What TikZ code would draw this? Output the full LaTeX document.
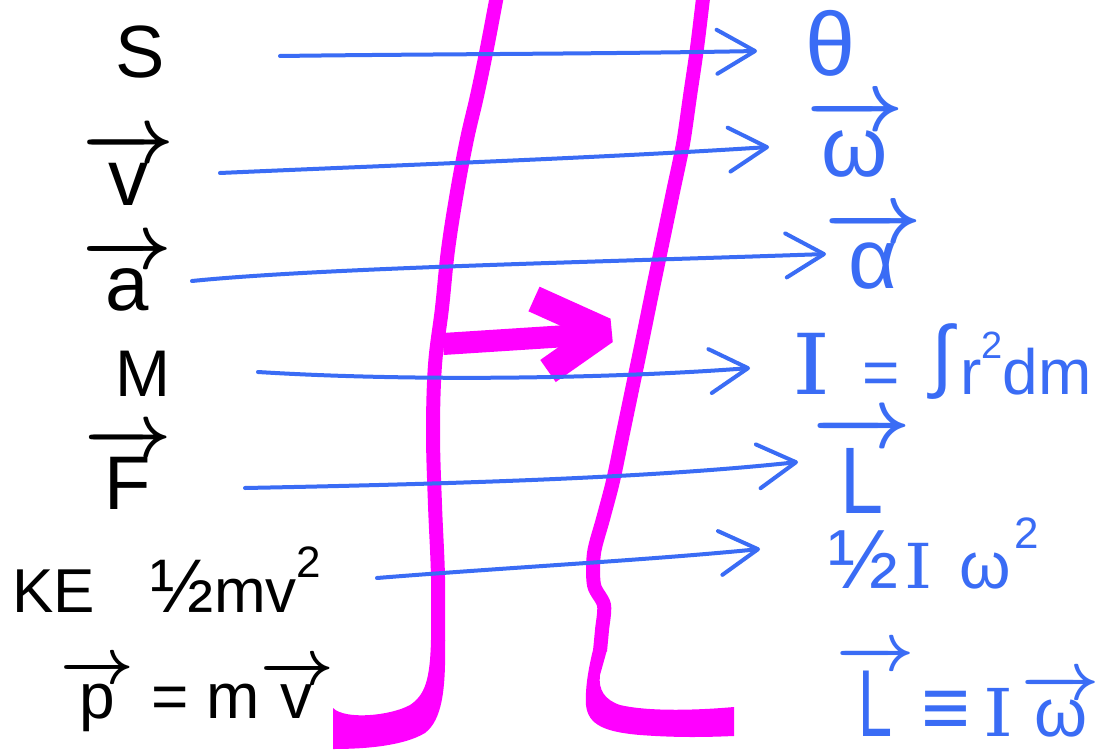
\documentclass[tikz,border=0pt]{standalone}
\usepackage{fix-cm}
\usepackage{amsmath}
\usepackage{graphicx}
\usepackage{fontspec}
\setmainfont{Liberation Sans}
\newfontfamily\serifI{DejaVu Serif}
\usetikzlibrary{arrows.meta}
\definecolor{penblue}{RGB}{58,108,245}
\definecolor{penmag}{RGB}{255,0,255}
\newcommand{\myarr}[1]{{\boldmath$\overrightarrow{\text{#1}}$}}
\newcommand{\bigI}[1]{\scalebox{#1}[1]{\serifI I}}
\newcommand{\mysq}[2]{\raisebox{#1}{\fontsize{#2}{#2}\selectfont 2}}
\newcommand{\myhalf}[1]{{\fontsize{#1}{#1}\selectfont ½}}
\begin{document}
\begin{tikzpicture}[x=1pt,y=-1pt,
  conn/.style={draw=penblue,line width=4pt,line cap=round,-{Straight Barb[length=38pt,width=44pt,round]}},
  magthin/.style={draw=penmag,line width=14pt,line join=round,line cap=butt},
  ink/.style={text=black,inner sep=0pt},
  bink/.style={text=penblue,inner sep=0pt}]
\useasboundingbox (0,0) rectangle (1111,752);
\fill[white] (0,0) rectangle (1111,752);

% magenta strokes
\draw[magthin] plot[smooth,tension=0.6] coordinates {(498,-10) (487,48) (477,96) (467,139) (457,192) (448,250) (442,308) (435,365) (433,433) (435,505) (438,577) (438,641)};
\fill[penmag] (431,640) -- (445,640) .. controls (446,690) and (442,720) .. (425,733)
  .. controls (405,745) and (370,749) .. (333,749) -- (333,708)
  .. controls (345,720) and (390,716) .. (410,705)
  .. controls (425,695) and (430,680) .. (431,640) -- cycle;
\draw[magthin] plot[smooth,tension=0.5] coordinates {(704,-10) (697,48) (690,96) (683,144) (673,192) (663,240) (653,288) (643,337) (633,385) (623,433) (613,481) (603,519) (594,553) (594,585) (604,605) (602,630) (600,651)};
\fill[penmag] (593,650) .. controls (588,670) and (585,690) .. (586,705)
  .. controls (588,725) and (605,732) .. (640,735)
  .. controls (680,738) and (710,737) .. (734,736) -- (734,707)
  .. controls (700,710) and (650,712) .. (620,705)
  .. controls (605,700) and (598,690) .. (600,675) -- (607,650) -- cycle;
\draw[penmag,line width=22pt] (443,344) -- (598,334);
\draw[penmag,line width=27pt,line join=bevel] (534,299) -- (605,331) -- (548,371);

% labels left
\node[ink,font=\fontsize{74}{74}\selectfont] (S) at (140,52) {S};
\node[ink,anchor=base,font=\fontsize{80}{80}\selectfont] (v) at (128,205) {\myarr{v}};
\node[ink,anchor=base,font=\fontsize{78}{78}\selectfont] (a) at (127,310) {\myarr{a}};
\node[ink,anchor=base,font=\fontsize{66}{66}\selectfont] (M) at (143,396) {M};
\node[ink,anchor=base,font=\fontsize{76}{76}\selectfont] (F) at (128,509) {\myarr{F}};
\node[ink,anchor=base west,font=\fontsize{62}{62}\selectfont] (KE) at (12,612) {KE\hspace{0.9em}\myhalf{76}mv\mysq{0.55em}{44}};
\node[ink,anchor=base west,font=\fontsize{64}{64}\selectfont] (p) at (60,718) {\myarr{p} = m\myarr{v}};

% labels right
\node[bink,font=\fontsize{90}{90}\selectfont] (theta) at (831,43) {θ};
\node[bink,anchor=base,font=\fontsize{85}{85}\selectfont] (omega) at (855,176) {\myarr{ω}};
\node[bink,anchor=base,font=\fontsize{85}{85}\selectfont] (alpha) at (873,288) {\myarr{α}};
\node[bink,anchor=base west,font=\fontsize{64}{64}\selectfont] (I) at (792,394) {{\fontsize{84}{84}\selectfont\bigI{1.15}}\hspace{0.5em}=\hspace{0.5em}\raisebox{0.18em}{\fontsize{80}{80}\selectfont ∫}\hspace{0.1em}r\mysq{0.55em}{38}dm};
\node[bink,anchor=base,font=\fontsize{86}{86}\selectfont] (L) at (862,513) {\myarr{\scalebox{0.9}[1.1]{L}}};
\node[bink,anchor=base west,font=\fontsize{66}{66}\selectfont] (KErot) at (828,588) {\myhalf{84}\hspace{0.1em}{\fontsize{62}{62}\selectfont\bigI{1.15}}\hspace{0.4em}ω\hspace{0.05em}\mysq{0.6em}{44}};
\node[bink,anchor=base west,font=\fontsize{68}{68}\selectfont] (Lw) at (836,736) {\myarr{\scalebox{0.9}[1.4]{L}}\hspace{0.1em}{\fontsize{84}{84}\selectfont≡}\hspace{0.2em}{\fontsize{66}{66}\selectfont\bigI{1.15}}\hspace{0.12em}\myarr{ω}};

% connectors
\coordinate (s1) at (280,56); \coordinate (t1) at (757,51);
\coordinate (s2) at (220,173); \coordinate (t2) at (769,147);
\coordinate (s3) at (192,281); \coordinate (t3) at (826,254);
\coordinate (s4) at (258,372); \coordinate (t4) at (750,368);
\coordinate (s5) at (245,488); \coordinate (t5) at (798,462);
\coordinate (s6) at (377,578); \coordinate (t6) at (760,549);
\draw[conn] (s1) .. controls (430,54) and (600,54) .. (t1);
\draw[conn] (s2) .. controls (400,165) and (600,158) .. (t2);
\draw[conn] (s3) .. controls (320,268) and (600,262) .. (t3);
\draw[conn] (s4) .. controls (420,382) and (620,378) .. (t4);
\draw[conn] (s5) .. controls (450,484) and (650,478) .. (t5);
\draw[conn] (s6) .. controls (500,568) and (650,560) .. (t6);
\end{tikzpicture}
\end{document}
